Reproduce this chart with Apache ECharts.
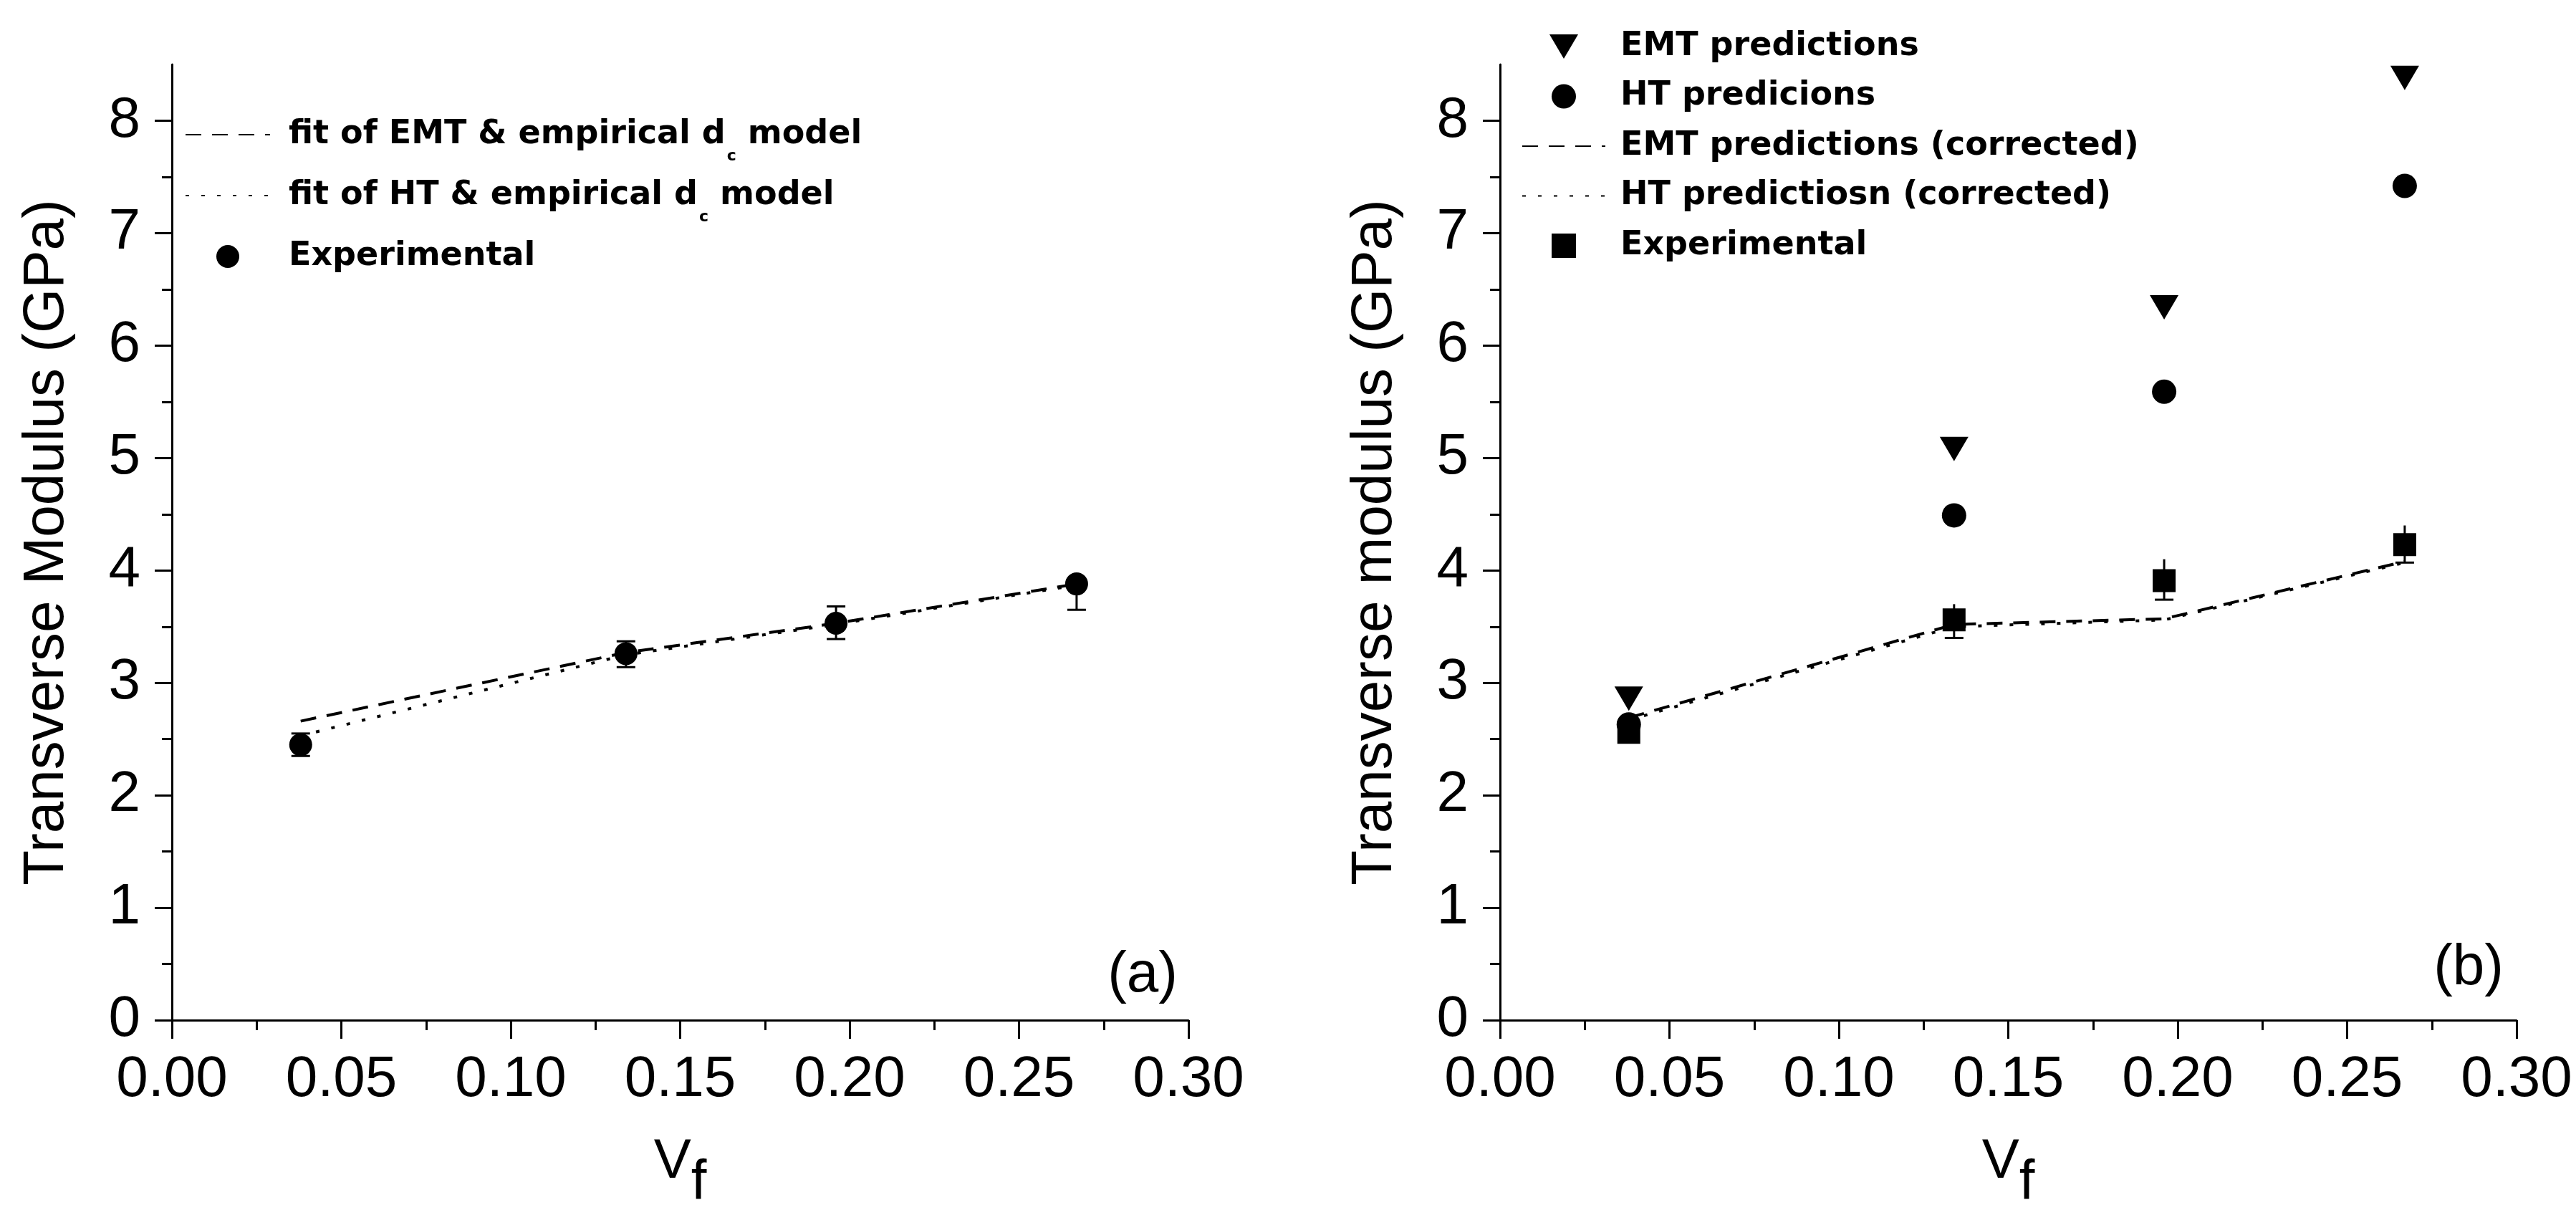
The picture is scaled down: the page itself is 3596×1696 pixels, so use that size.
<!DOCTYPE html>
<html><head><meta charset="utf-8">
<script src="https://cdn.jsdelivr.net/npm/echarts@6.0.0/dist/echarts.min.js"></script>
<style>html,body{margin:0;padding:0;background:#fff}#c{width:3596px;height:1696px}</style>
</head><body><div id="c"></div>
<script>
// ---------- data ----------
const vf = [0.038, 0.134, 0.196, 0.267];
// panel (a)
const aExp     = [2.45, 3.26, 3.53, 3.88];
const aExpLow  = [2.35, 3.14, 3.39, 3.65];
const aExpHigh = [2.55, 3.37, 3.68, 3.88];
const aEmtFit  = [2.66, 3.27, 3.53, 3.88];
const aHtFit   = [2.53, 3.25, 3.52, 3.87];
// panel (b)
const bEmtPred = [2.86, 5.08, 6.34, 8.38];
const bHtPred  = [2.63, 4.49, 5.59, 7.42];
const bExp     = [2.56, 3.56, 3.91, 4.23];
const bExpLow  = [2.56, 3.40, 3.74, 4.07];
const bExpHigh = [2.56, 3.70, 4.10, 4.40];
const bEmtCorr = [2.69, 3.52, 3.57, 4.08];
const bHtCorr  = [2.67, 3.50, 3.56, 4.07];
const yTicks = [0, 1, 2, 3, 4, 5, 6, 7, 8];

const legendA = ['fit of EMT & empirical d_c model', 'fit of HT & empirical d_c model', 'Experimental'];
const legendB = ['EMT predictions', 'HT predicions', 'EMT predictions (corrected)', 'HT predictiosn (corrected)', 'Experimental '];

// ---------- helpers ----------
const FONT = 'Liberation Sans';
const pts = ys => vf.map((x, i) => [x, ys[i]]);
const errData = (v, lo, hi) => vf.map((x, i) => [x, lo[i], hi[i], v[i]]);
const TRI_DOWN = 'path://M0,0L40,0L20,34Z';
const SQUARE = 'path://M0,0L32,0L32,32L0,32Z';

function errRender(capTop) {
  return function (params, api) {
    const x = api.value(0), lo = api.value(1), hi = api.value(2), mid = api.value(3);
    const pLo = api.coord([x, lo]), pHi = api.coord([x, hi]), pM = api.coord([x, mid]);
    if (Math.abs(pLo[1] - pHi[1]) < 1) return null;
    const st = { stroke: '#000', lineWidth: 3 };
    const ch = [{ type: 'line', shape: { x1: pLo[0], y1: pLo[1], x2: pHi[0], y2: pHi[1] }, style: st }];
    if (pLo[1] - pM[1] > 1) ch.push({ type: 'line', shape: { x1: pLo[0] - 13, y1: pLo[1], x2: pLo[0] + 13, y2: pLo[1] }, style: st });
    if (capTop && pM[1] - pHi[1] > 1) ch.push({ type: 'line', shape: { x1: pHi[0] - 13, y1: pHi[1], x2: pHi[0] + 13, y2: pHi[1] }, style: st });
    return { type: 'group', children: ch };
  };
}

// every left-legend row gets a sub token so all rows have equal height
function legendFmtA(name) {
  const n = name.trim();
  const i = n.indexOf('d_c');
  if (i < 0) return '{t|' + n + '}{s| }';
  return '{t|' + n.slice(0, i) + 'd}{s|c}{t|' + n.slice(i + 3) + '}';
}
function legendFmtB(name) { return '{t|' + name.trim() + '}'; }
function legendText(pad) {
  return {
    fontFamily: 'DejaVu Sans', fontWeight: 'bold', fontSize: 46, color: '#000',
    padding: [0, 0, 0, pad],
    rich: {
      t: { fontFamily: 'DejaVu Sans', fontWeight: 'bold', fontSize: 46, lineHeight: 46, color: '#000' },
      s: { fontFamily: 'DejaVu Sans', fontWeight: 'bold', fontSize: 22, lineHeight: 22, color: '#000', padding: [60, 0, 0, 2] }
    }
  };
}

function xAxisDef(idx) {
  return {
    gridIndex: idx, type: 'value', min: 0, max: 0.3, interval: 0.05,
    name: '{v|V}{s|f}', nameLocation: 'middle', nameGap: 104,
    nameTextStyle: {
      rich: {
        v: { fontFamily: FONT, fontSize: 78, lineHeight: 78, color: '#000' },
        s: { fontFamily: FONT, fontSize: 78, lineHeight: 78, color: '#000', padding: [60, 0, 0, 0] }
      }
    },
    axisLine: { lineStyle: { color: '#000', width: 3 } },
    axisTick: { inside: false, length: 26, lineStyle: { color: '#000', width: 3 } },
    minorTick: { show: true, splitNumber: 2, length: 14, lineStyle: { color: '#000', width: 3 } },
    splitLine: { show: false },
    axisLabel: { fontFamily: FONT, fontSize: 80, color: '#000', margin: 44, formatter: v => v.toFixed(2) }
  };
}
function yAxisDef(idx, title) {
  return {
    gridIndex: idx, type: 'value', min: 0, max: 8.5, interval: 1,
    name: title, nameLocation: 'middle', nameGap: 134,
    nameTextStyle: { fontFamily: FONT, fontSize: 80, color: '#000' },
    axisLine: { show: true, lineStyle: { color: '#000', width: 3 } },
    axisTick: { show: true, inside: false, length: 24, customValues: yTicks, lineStyle: { color: '#000', width: 3 } },
    minorTick: { show: true, splitNumber: 2, length: 14, lineStyle: { color: '#000', width: 3 } },
    splitLine: { show: false },
    axisLabel: { fontFamily: FONT, fontSize: 80, color: '#000', margin: 44, customValues: yTicks, formatter: v => String(Math.round(v)) }
  };
}

const DASH = [22, 15];
const DOT = [5, 17];
const NOSYM = { color: 'rgba(0,0,0,0)', borderWidth: 0 };
const BLACK = { color: '#000', opacity: 1 };

const option = {
  backgroundColor: '#fff',
  animation: false,
  grid: [
    { left: 240, top: 90, width: 1419, height: 1341 },
    { left: 2094, top: 90, width: 1419, height: 1341 }
  ],
  xAxis: [xAxisDef(0), xAxisDef(1)],
  yAxis: [yAxisDef(0, 'Transverse Modulus (GPa)'), yAxisDef(1, 'Transverse modulus (GPa)')],
  legend: [
    {
      data: legendA, orient: 'vertical', left: 253, top: 142, itemGap: 3,
      itemWidth: 118, itemHeight: 32, selectedMode: false, symbolKeepAspect: true,
      formatter: legendFmtA, textStyle: legendText(21)
    },
    {
      data: [
        { name: legendB[0], icon: TRI_DOWN },
        { name: legendB[1] },
        { name: legendB[2] },
        { name: legendB[3] },
        { name: legendB[4], icon: SQUARE }
      ],
      orient: 'vertical', left: 2119, top: 37, itemGap: 23.5,
      itemWidth: 116, itemHeight: 34, selectedMode: false, symbolKeepAspect: true,
      formatter: legendFmtB, textStyle: legendText(16)
    }
  ],
  graphic: [
    { type: 'text', x: 1644, y: 1362, style: { text: '(a)', fontFamily: FONT, fontSize: 80, fill: '#000', align: 'right', verticalAlign: 'middle' } },
    { type: 'text', x: 3495, y: 1352, style: { text: '(b)', fontFamily: FONT, fontSize: 80, fill: '#000', align: 'right', verticalAlign: 'middle' } }
  ],
  series: [
    // ---- panel (a)
    { name: legendA[0], type: 'line', xAxisIndex: 0, yAxisIndex: 0, data: pts(aEmtFit), symbol: 'none',
      itemStyle: NOSYM, lineStyle: { color: '#000', width: 4, type: DASH } },
    { name: legendA[1], type: 'line', xAxisIndex: 0, yAxisIndex: 0, data: pts(aHtFit), symbol: 'none',
      itemStyle: NOSYM, lineStyle: { color: '#000', width: 4, type: DOT } },
    { type: 'custom', xAxisIndex: 0, yAxisIndex: 0, data: errData(aExp, aExpLow, aExpHigh),
      encode: { x: 0, y: [1, 2] }, renderItem: errRender(true) },
    { name: legendA[2], type: 'scatter', xAxisIndex: 0, yAxisIndex: 0, data: pts(aExp),
      symbol: 'circle', symbolSize: 32, itemStyle: BLACK },
    // ---- panel (b)
    { name: legendB[0], type: 'scatter', xAxisIndex: 1, yAxisIndex: 1, data: pts(bEmtPred),
      symbol: 'triangle', symbolRotate: 180, symbolSize: [40, 34], itemStyle: BLACK },
    { name: legendB[1], type: 'scatter', xAxisIndex: 1, yAxisIndex: 1, data: pts(bHtPred),
      symbol: 'circle', symbolSize: 34, itemStyle: BLACK },
    { name: legendB[2], type: 'line', xAxisIndex: 1, yAxisIndex: 1, data: pts(bEmtCorr), symbol: 'none',
      itemStyle: NOSYM, lineStyle: { color: '#000', width: 4, type: DASH } },
    { name: legendB[3], type: 'line', xAxisIndex: 1, yAxisIndex: 1, data: pts(bHtCorr), symbol: 'none',
      itemStyle: NOSYM, lineStyle: { color: '#000', width: 4, type: DOT } },
    { type: 'custom', xAxisIndex: 1, yAxisIndex: 1, data: errData(bExp, bExpLow, bExpHigh),
      encode: { x: 0, y: [1, 2] }, renderItem: errRender(false) },
    { name: legendB[4], type: 'scatter', xAxisIndex: 1, yAxisIndex: 1, data: pts(bExp),
      symbol: 'rect', symbolSize: 32, itemStyle: BLACK }
  ]
};

const chart = echarts.init(document.getElementById('c'), null, { renderer: 'canvas' });
chart.setOption(option);
</script>
</body></html>
